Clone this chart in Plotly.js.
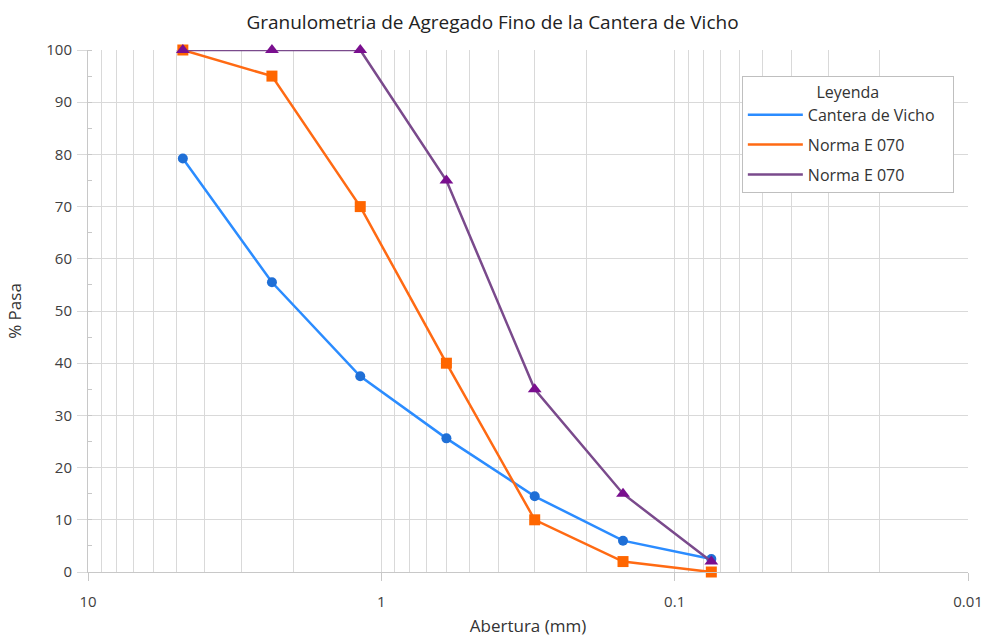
<!DOCTYPE html>
<html>
<head>
<meta charset="utf-8">
<script src="https://cdn.plot.ly/plotly-3.0.1.min.js"></script>
<style>html,body{margin:0;padding:0;background:#fff;}#chart{width:985px;height:639px;}</style>
</head>
<body>
<div id="chart"></div>
<script>
const aberturas = [4.75, 2.36, 1.18, 0.6, 0.3, 0.15, 0.075];
const canteraVicho = [79.2, 55.5, 37.5, 25.6, 14.5, 6, 2.5];
const normaInferior = [100, 95, 70, 40, 10, 2, 0];
const normaSuperior = [100, 100, 100, 75, 35, 15, 2];
const seriesNames = ["Cantera de Vicho", "Norma E 070", "Norma E 070"];
const xTickVals = [10, 1, 0.1, 0.01];
const xTickText = ["10", "1", "0.1", "0.01"];

const lineColors = ["#2b8cff", "#ff6a13", "#7a4a8c"];
const markerColors = ["#1f6fd6", "#ff6600", "#7a0f8f"];
const symbols = ["circle", "square", "triangle-up"];
const sizes = [10, 11, 12];
const ys = [canteraVicho, normaInferior, normaSuperior];

const traces = [];
[0,1,2].forEach(i => {
  traces.push({
    x: aberturas, y: ys[i], type: 'scatter', mode: 'lines+markers',
    line: {color: lineColors[i], width: 2.5},
    marker: {color: markerColors[i], symbol: symbols[i], size: sizes[i]},
    showlegend: false, hoverinfo: 'skip', cliponaxis: false
  });
});
[0,1,2].forEach(i => {
  traces.push({
    x: [null], y: [null], type: 'scatter', mode: 'lines',
    name: seriesNames[i] + '\u00a0\u00a0\u00a0', legendgroup: 'g' + i,
    line: {color: lineColors[i], width: 2.5},
    showlegend: true
  });
});

const layout = {
  width: 985, height: 639,
  margin: {l: 88, r: 17, t: 50, b: 67},
  paper_bgcolor: '#fff', plot_bgcolor: '#fff',
  font: {family: 'Open Sans, Liberation Sans, sans-serif', color: '#404040', size: 15},
  title: {text: 'Granulometria de Agregado Fino de la Cantera de Vicho', x: 0.5, xanchor: 'center', y: 0.965, yanchor: 'middle',
          font: {size: 19, color: '#222', family: 'Open Sans, sans-serif'}},
  xaxis: {
    type: 'log', range: [1, -2], autorange: false,
    tickvals: xTickVals, ticktext: xTickText,
    ticks: 'outside', ticklen: 8, tickcolor: '#c8c8c8',
    ticklabelstandoff: 8,
    showgrid: true, gridcolor: '#d9d9d9', gridwidth: 1,
    minor: {dtick: 'D1', showgrid: true, gridcolor: '#d9d9d9', gridwidth: 1, ticks: ''},
    showline: true, linecolor: '#c8c8c8', linewidth: 1, zeroline: false,
    tickfont: {size: 15, color: '#404040'},
    title: {text: 'Abertura (mm)', font: {size: 17, color: '#333'}, standoff: 10}
  },
  yaxis: {
    range: [0, 100], autorange: false, dtick: 10,
    ticks: 'outside', ticklen: 10, tickcolor: '#d9d9d9',
    ticklabelstandoff: 2,
    showgrid: true, gridcolor: '#d9d9d9', gridwidth: 1,
    minor: {dtick: 5, ticks: 'inside', ticklen: 4, tickcolor: '#c8c8c8', showgrid: false},
    showline: true, linecolor: '#c8c8c8', linewidth: 1, zeroline: false,
    tickfont: {size: 15, color: '#404040'},
    title: {text: '% Pasa', font: {size: 17, color: '#333'}, standoff: 20}
  },
  legend: {
    x: 0.743, xanchor: 'left', y: 0.95, yanchor: 'top',
    bgcolor: '#fff', bordercolor: '#bfbfbf', borderwidth: 1,
    font: {size: 16, color: '#333'},
    title: {text: 'Leyenda', side: 'top center', font: {size: 16, color: '#333'}},
    itemwidth: 55, tracegroupgap: 6, traceorder: 'grouped'
  }
};

Plotly.newPlot('chart', traces, layout, {displayModeBar: false, staticPlot: true});
</script>
</body>
</html>
